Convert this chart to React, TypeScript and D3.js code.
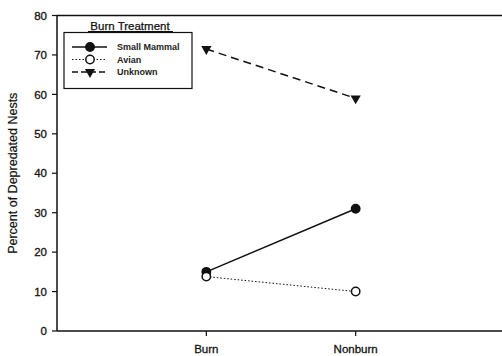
import React from 'react'
import * as d3 from 'd3'

const categories = ['Burn', 'Nonburn']
const smallMammal = [15, 31]
const avian = [13.8, 10]
const unknown = [71.5, 59]
const yTicks = [0, 10, 20, 30, 40, 50, 60, 70, 80]

const series = [
    { name: 'Small Mammal', values: smallMammal, dash: '', marker: 'filled' },
    { name: 'Avian', values: avian, dash: '1.5,2', marker: 'open' },
    { name: 'Unknown', values: unknown, dash: '8,5', marker: 'triangle' },
]

const W = 502, H = 356
const left = 57, right = 505, top = 15.5, bottom = 331

const Marker = ({ type, x, y }: { type: string, x: number, y: number }) => {
    if (type === 'triangle') {
        const tri = d3.symbol().type(d3.symbolTriangle).size(45)()
        return <path d={tri as string} transform={`translate(${x},${y}) rotate(180)`} fill="#111" />
    }
    return <circle cx={x} cy={y} r={4.2} fill={type === 'filled' ? '#111' : '#fff'} stroke="#111" strokeWidth={1.5} />
}

const App = () => {
    const x = d3.scaleLinear().domain([0, 3]).range([left, right])
    const y = d3.scaleLinear().domain([0, 80]).range([bottom, top])
    const line = d3.line<number>().x((_, i) => x(i + 1)).y(d => y(d))
    const font = 'Arial, "Liberation Sans", sans-serif'
    // frame runs off the right edge of the picture, as in the scan
    const frameRight = W

    return (
        <div style={{ position: 'fixed', left: 0, top: 0, width: W, height: H, overflow: 'hidden', background: '#fff' }}>
            <svg width={W} height={H} style={{ display: 'block' }} fontFamily={font}>
                <line x1={left} x2={frameRight} y1={top} y2={top} stroke="#111" strokeWidth={1.5} />
                <line x1={left} x2={frameRight} y1={bottom} y2={bottom} stroke="#111" strokeWidth={1.5} />
                <line x1={left} x2={left} y1={top} y2={bottom} stroke="#111" strokeWidth={1.5} />
                {yTicks.map(t => (
                    <g key={t}>
                        <line x1={left - 5} x2={left} y1={y(t)} y2={y(t)} stroke="#111" strokeWidth={1.2} />
                        <text x={left - 10} y={y(t)} dy="0.36em" textAnchor="end" fontSize={11.5} fill="#111" stroke="#111" strokeWidth={0.3}>{t}</text>
                    </g>
                ))}
                {categories.map((c, i) => (
                    <g key={c}>
                        <line x1={x(i + 1)} x2={x(i + 1)} y1={bottom} y2={bottom + 5} stroke="#111" strokeWidth={1.2} />
                        <text x={x(i + 1)} y={353} textAnchor="middle" fontSize={11.5} fill="#111" stroke="#111" strokeWidth={0.3}>{c}</text>
                    </g>
                ))}
                <text transform={`translate(17,${(top + bottom) / 2}) rotate(-90)`} textAnchor="middle" fontSize={12.5} fill="#111" stroke="#111" strokeWidth={0.2}>
                    Percent of Depredated Nests
                </text>

                {series.map(s => (
                    <g key={s.name}>
                        <path d={line(s.values) as string} fill="none" stroke="#111" strokeWidth={s.dash === '1.5,2' ? 1 : 1.5} strokeDasharray={s.dash} />
                        {s.values.map((v, i) => <Marker key={i} type={s.marker} x={x(i + 1)} y={y(v)} />)}
                    </g>
                ))}

                {/* legend */}
                <text x={130} y={29.5} textAnchor="middle" fontSize={11.5} fill="#111" stroke="#111" strokeWidth={0.25}>Burn Treatment</text>
                <line x1={88} x2={173} y1={31.5} y2={31.5} stroke="#111" strokeWidth={1} />
                <rect x={64} y={32.5} width={128} height={56} fill="#fff" stroke="#111" strokeWidth={1.2} />
                {series.map((s, i) => {
                    const ly = 47 + i * 12.5
                    return (
                        <g key={s.name}>
                            <line x1={72} x2={107} y1={ly} y2={ly} stroke="#111" strokeWidth={s.dash === '1.5,2' ? 1 : 1.5} strokeDasharray={s.dash === '8,5' ? '6,3' : s.dash} />
                            <Marker type={s.marker} x={90} y={ly} />
                            <text x={117} y={ly} dy="0.35em" fontSize={9} fontWeight="bold" fill="#222">{s.name}</text>
                        </g>
                    )
                })}
            </svg>
        </div>
    )
}

export default App
